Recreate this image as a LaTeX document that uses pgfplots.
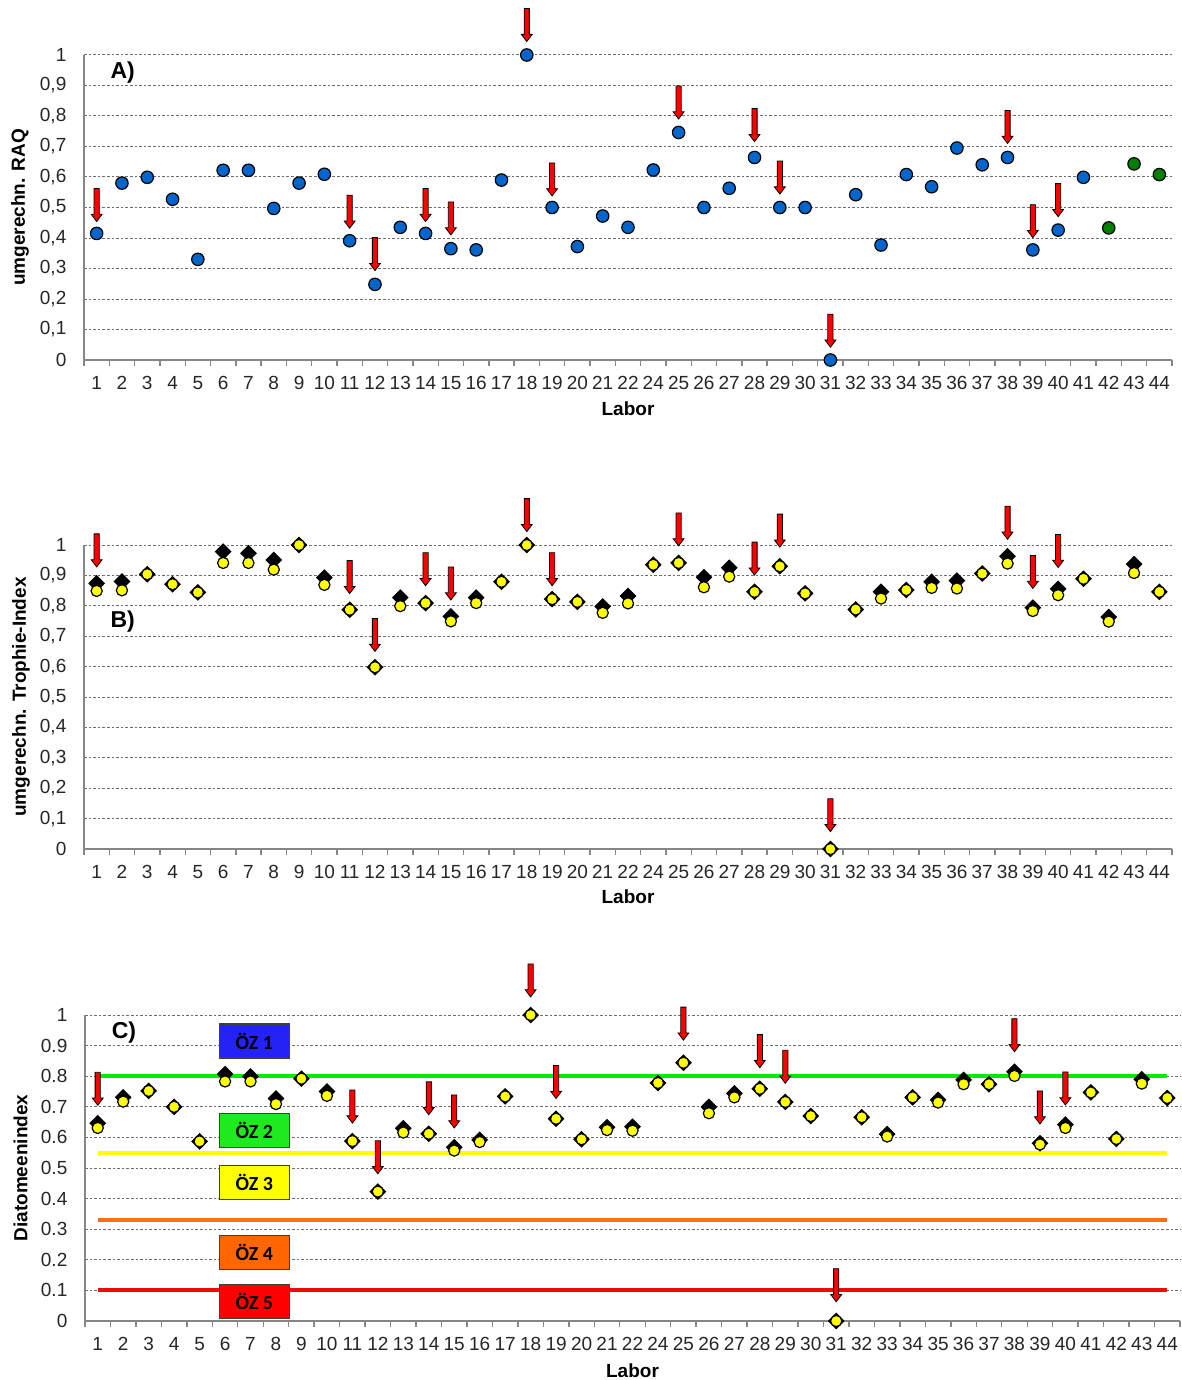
\documentclass[border=0pt]{standalone}
\usepackage{fontspec}
\setmainfont{Liberation Sans}
\newfontfamily\calibri{Carlito}
\usepackage{pgfplots}
\pgfplotsset{compat=1.18}
\usepackage{pgfplotstable}

\definecolor{axgray}{RGB}{134,134,134}
\definecolor{gridc}{RGB}{110,110,110}
\definecolor{dotblue}{RGB}{0,102,204}
\definecolor{dotgreen}{RGB}{0,128,0}
\definecolor{yel}{RGB}{255,255,0}
\definecolor{ozblue}{RGB}{35,35,245}
\definecolor{ozgreen}{RGB}{30,235,30}
\definecolor{ozyellow}{RGB}{255,255,0}
\definecolor{ozorange}{RGB}{255,102,0}
\definecolor{ozred}{RGB}{255,0,0}
\definecolor{lgreen}{RGB}{0,235,0}
\definecolor{lyellow}{RGB}{255,255,0}
\definecolor{lorange}{RGB}{255,110,20}
\definecolor{lred}{RGB}{240,10,10}

\pgfdeclareplotmark{dmd}{%
  \pgfpathmoveto{\pgfqpoint{0pt}{\pgfplotmarksize}}%
  \pgfpathlineto{\pgfqpoint{\pgfplotmarksize}{0pt}}%
  \pgfpathlineto{\pgfqpoint{0pt}{-\pgfplotmarksize}}%
  \pgfpathlineto{\pgfqpoint{-\pgfplotmarksize}{0pt}}%
  \pgfpathclose\pgfusepathqfillstroke}
\pgfdeclareplotmark{darrow}{%
  \pgfpathmoveto{\pgfqpoint{0pt}{0pt}}%
  \pgfpathlineto{\pgfqpoint{2.7pt}{3.6pt}}%
  \pgfpathlineto{\pgfqpoint{1.3pt}{3.6pt}}%
  \pgfpathlineto{\pgfqpoint{1.3pt}{16.5pt}}%
  \pgfpathlineto{\pgfqpoint{-1.3pt}{16.5pt}}%
  \pgfpathlineto{\pgfqpoint{-1.3pt}{3.6pt}}%
  \pgfpathlineto{\pgfqpoint{-2.7pt}{3.6pt}}%
  \pgfpathclose\pgfusepathqfillstroke}

% Panel A: RAQ (index 0..42 = Labor 1..22, 24..44)
\pgfplotstableread{
x y
0 0.415
1 0.580
2 0.599
3 0.527
4 0.330
5 0.622
6 0.622
7 0.497
8 0.580
9 0.609
10 0.391
11 0.248
12 0.435
13 0.415
14 0.365
15 0.361
16 0.590
17 1.000
18 0.500
19 0.372
20 0.472
21 0.435
22 0.623
23 0.746
24 0.500
25 0.563
26 0.664
27 0.500
28 0.500
29 0.000
30 0.542
31 0.377
32 0.608
33 0.568
34 0.695
35 0.640
36 0.664
37 0.361
38 0.426
39 0.599
}\dataAblue
\pgfplotstableread{
x y
40 0.433
41 0.643
42 0.608
}\dataAgreen
\pgfplotstableread{
x y
0 0.454
10 0.432
11 0.293
13 0.454
14 0.410
17 1.044
18 0.538
23 0.790
26 0.716
27 0.544
29 0.042
36 0.710
37 0.401
38 0.470
}\arrA

% Panel B: Trophie-Index (d = diamonds, c = circles)
\pgfplotstableread{
x d c
0 0.874 0.849
1 0.880 0.851
2 0.904 0.904
3 0.871 0.871
4 0.844 0.844
5 0.978 0.941
6 0.973 0.941
7 0.951 0.919
8 1.000 1.000
9 0.893 0.869
10 0.787 0.787
11 0.598 0.598
12 0.827 0.799
13 0.809 0.809
14 0.765 0.749
15 0.827 0.809
16 0.879 0.879
17 1.000 1.000
18 0.822 0.822
19 0.813 0.813
20 0.798 0.777
21 0.832 0.808
22 0.935 0.935
23 0.941 0.941
24 0.894 0.861
25 0.925 0.896
26 0.846 0.846
27 0.930 0.930
28 0.841 0.841
29 0.000 0.000
30 0.788 0.788
31 0.846 0.824
32 0.852 0.852
33 0.879 0.859
34 0.883 0.857
35 0.906 0.906
36 0.963 0.939
37 0.794 0.783
38 0.856 0.835
39 0.889 0.889
40 0.763 0.748
41 0.937 0.908
42 0.846 0.846
}\dataB
\pgfplotstableread{
x y
0 0.928
10 0.840
11 0.650
13 0.866
14 0.819
17 1.044
18 0.866
23 0.997
26 0.901
27 0.993
29 0.057
36 1.019
37 0.857
38 0.926
}\arrB

% Panel C: Diatomeenindex
\pgfplotstableread{
x d c
0 0.646 0.631
1 0.731 0.717
2 0.752 0.752
3 0.700 0.700
4 0.587 0.587
5 0.807 0.783
6 0.799 0.783
7 0.727 0.709
8 0.792 0.792
9 0.750 0.736
10 0.588 0.588
11 0.423 0.423
12 0.630 0.616
13 0.612 0.612
14 0.568 0.557
15 0.592 0.585
16 0.734 0.734
17 1.000 1.000
18 0.661 0.661
19 0.594 0.594
20 0.633 0.624
21 0.635 0.622
22 0.778 0.778
23 0.844 0.844
24 0.700 0.679
25 0.744 0.731
26 0.759 0.759
27 0.716 0.716
28 0.670 0.670
29 0.000 0.000
30 0.666 0.666
31 0.611 0.603
32 0.731 0.731
33 0.723 0.714
34 0.788 0.774
35 0.774 0.774
36 0.815 0.801
37 0.581 0.577
38 0.642 0.631
39 0.747 0.747
40 0.595 0.595
41 0.790 0.776
42 0.729 0.729
}\dataC
\pgfplotstableread{
x y
0 0.705
10 0.647
11 0.481
13 0.674
14 0.631
17 1.059
18 0.727
23 0.918
26 0.828
27 0.777
29 0.063
36 0.880
37 0.644
38 0.706
}\arrC

\pgfplotsset{
  panel/.style={
    scale only axis, anchor=south west,
    xmin=-0.5, xmax=42.5, ymin=0, ymax=1,
    axis lines=left,
    axis line style={-, draw=axgray, line width=0.7pt},
    xtick={0,...,42},
    xticklabels={1,2,3,4,5,6,7,8,9,10,11,12,13,14,15,16,17,18,19,20,21,22,24,25,26,27,28,29,30,31,32,33,34,35,36,37,38,39,40,41,42,43,44},
    minor xtick={-0.5,0.5,...,42.5},
    ytick={0,0.1,0.2,0.3,0.4,0.5,0.6,0.7,0.8,0.9,1},
    major tick length=0pt, minor tick length=3pt,
    tick align=outside,
    tick style={draw=axgray, line width=0.7pt},
    ymajorgrids,
    grid style={gridc, dash pattern=on 1.3pt off 1pt, line width=0.5pt},
    tick label style={font=\fontsize{9.5}{11}\selectfont, text=black!85},
    xticklabel style={yshift=-4.5pt},
    yticklabel style={xshift=-5.3pt},
    xlabel=Labor,
    xlabel style={font=\bfseries\fontsize{9.5}{11}\selectfont, anchor=center},
    ylabel style={font=\bfseries\fontsize{9.5}{11}\selectfont, anchor=center},
    clip=false,
  },
  arrowplot/.style={only marks, mark=darrow, mark options={fill=red, draw=black, line width=0.4pt}},
  dmdplot/.style={only marks, mark=dmd, mark size=3.9pt, mark options={fill=black, draw=black, line width=0.4pt}},
  yelplot/.style={only marks, mark=*, mark size=2.8pt, mark options={fill=yel, draw=black, line width=0.6pt}},
}

\begin{document}
\begin{tikzpicture}
\useasboundingbox (0,0) rectangle (591pt,-690pt);

% ---------------- Panel A ----------------
\begin{axis}[panel, at={(42pt,-180pt)}, width=544pt, height=152.5pt,
  yticklabel style={/pgf/number format/.cd, fixed, precision=1, use comma, assume math mode=true},
  ylabel={umgerechn. RAQ},
  ylabel style={at={(axis description cs:-0.0588,0.5)}},
  xlabel style={at={(axis description cs:0.5,0)}, yshift=-24.5pt},
]
\addplot[only marks, mark=*, mark size=3.1pt, mark options={fill=dotblue, draw=black, line width=0.6pt}] table[x=x,y=y] {\dataAblue};
\addplot[only marks, mark=*, mark size=3.1pt, mark options={fill=dotgreen, draw=black, line width=0.6pt}] table[x=x,y=y] {\dataAgreen};
\addplot[arrowplot] table[x=x,y=y] {\arrA};
\node[font=\bfseries\fontsize{11.5}{13}\selectfont] at (axis cs:1.03,0.944) {A)};
\end{axis}

% ---------------- Panel B ----------------
\begin{axis}[panel, at={(42pt,-424.5pt)}, width=544pt, height=152pt,
  yticklabel style={/pgf/number format/.cd, fixed, precision=1, use comma, assume math mode=true},
  ylabel={umgerechn. Trophie-Index},
  ylabel style={at={(axis description cs:-0.0579,0.5)}},
  xlabel style={at={(axis description cs:0.5,0)}, yshift=-24pt},
]
\addplot[dmdplot] table[x=x,y=d] {\dataB};
\addplot[yelplot] table[x=x,y=c] {\dataB};
\addplot[arrowplot] table[x=x,y=y] {\arrB};
\node[font=\bfseries\fontsize{11.5}{13}\selectfont] at (axis cs:1.03,0.747) {B)};
\end{axis}

% ---------------- Panel C ----------------
\begin{axis}[panel, at={(42.5pt,-660.5pt)}, width=547.5pt, height=153pt,
  yticklabel style={/pgf/number format/.cd, fixed, precision=1, assume math mode=true},
  ylabel={Diatomeenindex},
  ylabel style={at={(axis description cs:-0.0589,0.5)}},
  xlabel style={at={(axis description cs:0.5,0)}, yshift=-25pt},
]
\addplot[lgreen, line width=2pt] coordinates {(0,0.8) (42,0.8)};
\addplot[lyellow, line width=2pt] coordinates {(0,0.55) (42,0.55)};
\addplot[lorange, line width=2pt] coordinates {(0,0.33) (42,0.33)};
\addplot[lred, line width=2pt] coordinates {(0,0.1) (42,0.1)};
\begin{scope}[every node/.style={draw=black!75, line width=0.6pt, minimum width=35pt, minimum height=17pt, inner sep=0pt, font=\calibri\bfseries\fontsize{10}{11}\selectfont}]
\node[fill=ozblue]   at (axis cs:6.15,0.915) {ÖZ 1};
\node[fill=ozgreen]  at (axis cs:6.15,0.623) {ÖZ 2};
\node[fill=ozyellow] at (axis cs:6.15,0.453) {ÖZ 3};
\node[fill=ozorange] at (axis cs:6.15,0.225) {ÖZ 4};
\node[fill=ozred]    at (axis cs:6.15,0.065) {ÖZ 5};
\end{scope}
\addplot[dmdplot] table[x=x,y=d] {\dataC};
\addplot[yelplot] table[x=x,y=c] {\dataC};
\addplot[arrowplot] table[x=x,y=y] {\arrC};
\node[font=\bfseries\fontsize{11.5}{13}\selectfont] at (axis cs:1.03,0.944) {C)};
\end{axis}
\end{tikzpicture}
\end{document}
